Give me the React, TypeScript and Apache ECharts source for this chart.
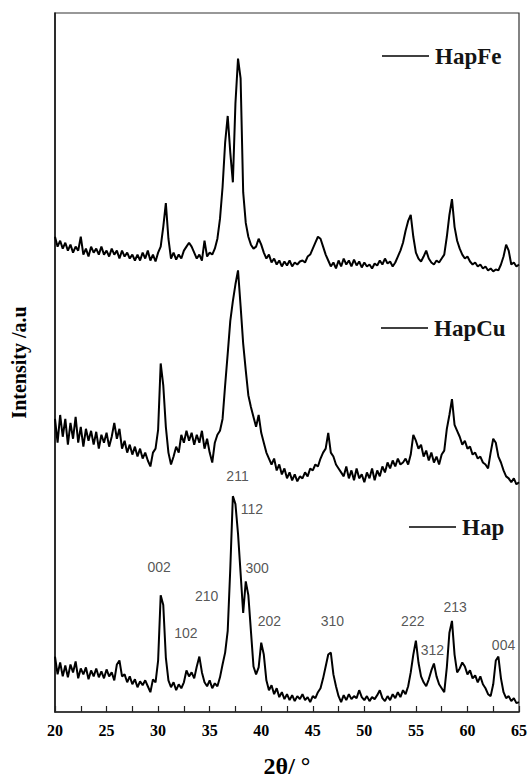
import React, { useEffect, useRef } from "react";
import * as echarts from "echarts";

// 2θ sampling grid: 20° to 65° every 0.25°
const angles: number[] = Array.from({ length: 181 }, (_, i) => 20 + i * 0.25);

const hap: number[] = [
  56, 38, 50, 36, 47, 35, 48, 40, 51, 34, 44, 38, 45, 33, 42, 36, 44, 35, 41, 34,
  43, 36, 40, 32, 48, 52, 36, 38, 30, 36, 28, 33, 25, 31, 27, 32, 26, 20, 33, 30,
  52, 118, 108, 55, 32, 25, 30, 22, 28, 24, 30, 42, 36, 40, 34, 46, 56, 40, 30, 26,
  32, 24, 29, 26, 35, 48, 60, 82, 145, 218, 210, 180, 140, 100, 132, 118, 82, 46, 38, 45,
  70, 58, 32, 22, 27, 18, 24, 15, 20, 13, 18, 12, 17, 11, 16, 13, 18, 12, 15, 10,
  16, 14, 20, 24, 34, 46, 58, 60, 38, 26, 16, 10, 17, 12, 18, 13, 16, 14, 22, 15,
  12, 16, 11, 15, 13, 17, 22, 14, 11, 16, 12, 18, 14, 20, 15, 22, 18, 26, 40, 58,
  72, 50, 36, 30, 26, 33, 42, 49, 36, 28, 24, 20, 45, 80, 92, 58, 40, 44, 50, 46,
  38, 42, 34, 37, 30, 36, 28, 24, 18, 16, 28, 52, 56, 34, 20, 14, 16, 11, 14, 9,
  10,
];

const hapCu: number[] = [
  296, 272, 300, 278, 296, 270, 292, 276, 298, 272, 288, 268, 286, 274, 284, 270, 283, 266, 280, 272,
  282, 268, 278, 292, 276, 286, 266, 274, 262, 270, 260, 268, 258, 266, 256, 262, 254, 248, 262, 266,
  285, 352, 330, 288, 262, 250, 258, 268, 262, 280, 272, 284, 274, 282, 270, 280, 272, 284, 266, 276,
  262, 252, 272, 280, 284, 296, 330, 362, 395, 415, 432, 446, 410, 372, 345, 320, 308, 298, 288, 300,
  282, 272, 262, 256, 250, 256, 244, 250, 240, 246, 236, 242, 234, 240, 233, 238, 236, 242, 238, 246,
  244, 250, 248, 256, 262, 266, 282, 262, 258, 250, 246, 242, 238, 248, 236, 244, 234, 246, 236, 240,
  232, 242, 236, 246, 234, 244, 238, 248, 242, 252, 246, 254, 248, 256, 250, 252, 256, 250, 260, 280,
  274, 266, 270, 258, 264, 254, 262, 252, 258, 250, 260, 264, 286, 300, 316, 290, 284, 278, 270, 274,
  266, 268, 260, 262, 256, 258, 252, 250, 246, 262, 276, 272, 258, 252, 244, 238, 236, 232, 236, 230,
  232,
];

const hapFe: number[] = [
  480, 470, 476, 468, 474, 466, 472, 464, 470, 466, 480, 462, 468, 460, 470, 464, 468, 462, 470, 462,
  466, 460, 468, 462, 466, 458, 466, 460, 464, 458, 462, 456, 462, 456, 464, 458, 466, 456, 462, 455,
  464, 470, 490, 514, 478, 458, 464, 457, 462, 458, 466, 470, 474, 470, 464, 458, 462, 456, 476, 460,
  464, 462, 468, 478, 498, 530, 575, 602, 565, 535, 615, 660, 640, 525, 494, 480, 472, 468, 470, 478,
  472, 464, 458, 462, 454, 458, 452, 456, 450, 455, 451, 456, 450, 454, 452, 455, 456, 454, 460, 462,
  468, 474, 480, 478, 470, 462, 456, 450, 454, 448, 456, 450, 458, 452, 456, 450, 457, 451, 455, 449,
  454, 450, 452, 448, 453, 451, 456, 452, 458, 453, 455, 450, 454, 460, 466, 474, 486, 496, 502, 480,
  464, 458, 455, 460, 466, 458, 454, 452, 456, 454, 458, 462, 480, 502, 518, 490, 476, 468, 462, 458,
  460, 455, 452, 454, 450, 452, 448, 450, 446, 448, 445, 447, 446, 452, 460, 472, 466, 452, 454, 450,
  452,
];

const xTicks = [20, 25, 30, 35, 40, 45, 50, 55, 60, 65];

const peakNames = ["002", "102", "210", "211", "112", "300", "202", "310", "222", "312", "213", "004"];
const peakAngles = [30.1, 32.7, 34.7, 37.7, 39.1, 39.6, 40.8, 46.9, 54.7, 56.6, 58.8, 63.5];
const peakLabelLevels = [146, 80, 117, 238, 205, 145, 92, 92, 92, 63, 106, 68];

const seriesNames = ["Hap", "HapCu", "HapFe"];

const pair = (vals: number[]) => vals.map((v, i) => [angles[i], v]);

export default function App() {
  const ref = useRef<HTMLDivElement>(null);
  useEffect(() => {
    if (!ref.current) return;
    const chart = echarts.init(ref.current, undefined, { renderer: "svg" });
    const serif = "'Liberation Serif', 'Times New Roman', serif";
    const sans = "'Liberation Sans', Arial, sans-serif";
    const lineStyle = { color: "#000", width: 2 };
    const legendItem = (name: string, lx: number, ly: number) => [
      {
        type: "line",
        shape: { x1: lx, y1: ly, x2: lx + 47, y2: ly },
        style: { stroke: "#000", lineWidth: 1.5 },
      },
      {
        type: "text",
        x: lx + 53,
        y: ly,
        style: {
          text: name,
          font: `bold 23px ${serif}`,
          fill: "#141414",
          textVerticalAlign: "middle",
        },
      },
    ];
    chart.setOption({
      animation: false,
      backgroundColor: "#fff",
      grid: {
        left: 55,
        right: 12,
        top: 13,
        bottom: 64,
        show: true,
        borderColor: "#333",
        borderWidth: 1.2,
      },
      xAxis: {
        type: "value",
        min: 20,
        max: 65,
        interval: 5,
        name: "2θ/ °",
        nameLocation: "middle",
        nameGap: 42,
        nameTextStyle: { fontFamily: serif, fontWeight: "bold", fontSize: 24, color: "#000" },
        axisLine: { lineStyle: { color: "#222", width: 1.5 } },
        axisTick: { inside: true, length: 6, lineStyle: { color: "#222", width: 1.2 } },
        minorTick: { show: true, splitNumber: 2, length: 6, lineStyle: { color: "#222", width: 1.2 } },
        splitLine: { show: false },
        axisLabel: {
          margin: 10,
          fontFamily: serif,
          fontWeight: "bold",
          fontSize: 16,
          color: "#000",
          formatter: (v: number) => (xTicks.includes(v) ? String(v) : ""),
        },
      },
      yAxis: {
        type: "value",
        min: 0,
        max: 706,
        name: "Intensity /a.u",
        nameLocation: "middle",
        nameGap: 26,
        nameTextStyle: { fontFamily: serif, fontWeight: "bold", fontSize: 20, color: "#000" },
        axisLine: { show: true, lineStyle: { color: "#111", width: 1.5 } },
        axisTick: { show: false },
        axisLabel: { show: false },
        splitLine: { show: false },
      },
      series: [
        { name: seriesNames[0], type: "line", data: pair(hap), showSymbol: false, lineStyle, silent: true },
        { name: seriesNames[1], type: "line", data: pair(hapCu), showSymbol: false, lineStyle, silent: true },
        { name: seriesNames[2], type: "line", data: pair(hapFe), showSymbol: false, lineStyle, silent: true },
        {
          type: "scatter",
          symbolSize: 0,
          silent: true,
          data: peakNames.map((n, i) => ({ name: n, value: [peakAngles[i], peakLabelLevels[i]] })),
          label: {
            show: true,
            position: "inside",
            formatter: (p: any) => p.name,
            fontFamily: sans,
            fontSize: 14,
            color: "#2a2a2a",
          },
        },
      ],
      graphic: [
        ...legendItem(seriesNames[2], 382, 56),
        ...legendItem(seriesNames[1], 381, 328),
        ...legendItem(seriesNames[0], 409, 527),
      ],
    });
    return () => chart.dispose();
  }, []);
  return <div ref={ref} style={{ position: "fixed", left: 0, top: 0, width: 531, height: 783 }} />;
}
